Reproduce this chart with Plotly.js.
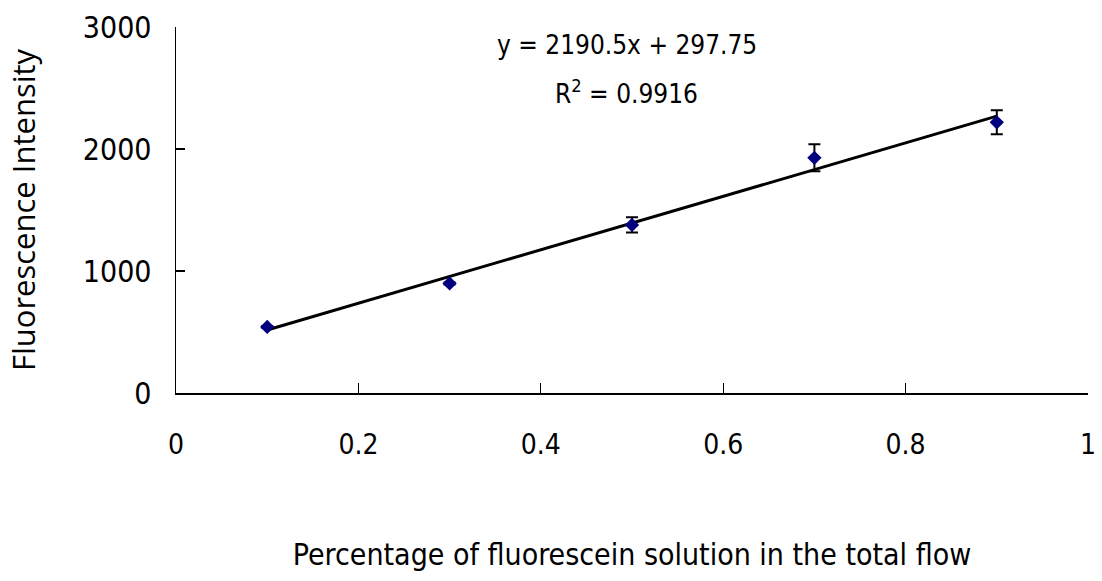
<!DOCTYPE html>
<html>
<head>
<meta charset="utf-8">
<script src="https://cdn.plot.ly/plotly-3.0.1.min.js"></script>
<style>
  html, body { margin: 0; padding: 0; background: #ffffff; }
  #chart { width: 1102px; height: 581px; }
</style>
</head>
<body>
<div id="chart"></div>
<script>
// Fraction of fluorescein solution in the total flow
const fraction = [0.1, 0.3, 0.5, 0.7, 0.9];
// Mean fluorescence intensity at each fraction
const intensity = [542, 898, 1378, 1928, 2219];
// Standard deviation of each measurement
const intensityErr = [8, 8, 62, 110, 98];

// Linear fit reported on the chart
const fitSlope = 2190.5;
const fitIntercept = 297.75;
const fitR2 = 0.9916;

const xTicks = [0, 0.2, 0.4, 0.6, 0.8, 1];
const xTickText = ['0', '0.2', '0.4', '0.6', '0.8', '1'];
const yTicks = [0, 1000, 2000, 3000];
const yTickText = ['0', '1000', '2000', '3000'];

const narrow = '"DejaVu Sans Condensed", "DejaVu Sans", sans-serif';
const regular = '"Open Sans", "Noto Sans", sans-serif';

// plot area spans 27..393 px vertically; helper for paper coords
const plotTop = 27, plotH = 366;
const paperY = px => 1 - (px - plotTop) / plotH;

const fitX = [fraction[0], fraction[fraction.length - 1]];
const fitY = fitX.map(x => fitSlope * x + fitIntercept);

const traces = [
  {
    x: fitX,
    y: fitY,
    mode: 'lines',
    line: { color: '#000000', width: 3 },
    hoverinfo: 'skip',
    showlegend: false
  },
  {
    x: fraction,
    y: intensity,
    mode: 'markers',
    marker: { symbol: 'diamond', size: 11, color: '#00007f' },
    error_y: { type: 'data', array: intensityErr, visible: true, color: '#000000', thickness: 2, width: 6 },
    showlegend: false
  }
];

const layout = {
  width: 1102,
  height: 581,
  paper_bgcolor: '#ffffff',
  plot_bgcolor: '#ffffff',
  margin: { l: 176, r: 14, t: 27, b: 188, pad: 0 },
  showlegend: false,
  xaxis: {
    range: [0, 1],
    tickvals: xTicks,
    ticktext: xTickText,
    ticks: 'inside',
    ticklen: 10,
    tickwidth: 1.3,
    tickcolor: '#000000',
    showline: true,
    linecolor: '#000000',
    linewidth: 1.5,
    showgrid: false,
    zeroline: false,
    ticklabelstandoff: 26,
    tickfont: { family: narrow, size: 28, color: '#000000' },
    title: {
      text: 'Percentage of fluorescein solution in the total flow',
      font: { family: narrow, size: 30, color: '#000000' },
      standoff: 84
    },
    automargin: false
  },
  yaxis: {
    range: [0, 3000],
    tickvals: yTicks,
    ticktext: yTickText,
    ticks: 'inside',
    ticklen: 9,
    tickwidth: 1.3,
    tickcolor: '#000000',
    showline: true,
    linecolor: '#000000',
    linewidth: 1.5,
    showgrid: false,
    zeroline: false,
    ticklabelstandoff: 17,
    tickfont: { family: narrow, size: 30, color: '#000000' },
    title: {
      text: 'Fluorescence Intensity',
      font: { family: regular, size: 31, color: '#000000' },
      standoff: 38
    },
    automargin: false
  },
  annotations: [
    {
      xref: 'paper', yref: 'paper',
      x: 0.4945, y: paperY(45),
      xanchor: 'center', yanchor: 'middle',
      text: 'y = ' + fitSlope + 'x + ' + fitIntercept,
      showarrow: false,
      font: { family: narrow, size: 26, color: '#000000' }
    },
    {
      xref: 'paper', yref: 'paper',
      x: 0.4945, y: paperY(92),
      xanchor: 'center', yanchor: 'middle',
      text: 'R<sup>2</sup> = ' + fitR2,
      showarrow: false,
      font: { family: narrow, size: 26, color: '#000000' }
    }
  ]
};

Plotly.newPlot('chart', traces, layout, { displayModeBar: false, staticPlot: true });
</script>
</body>
</html>
